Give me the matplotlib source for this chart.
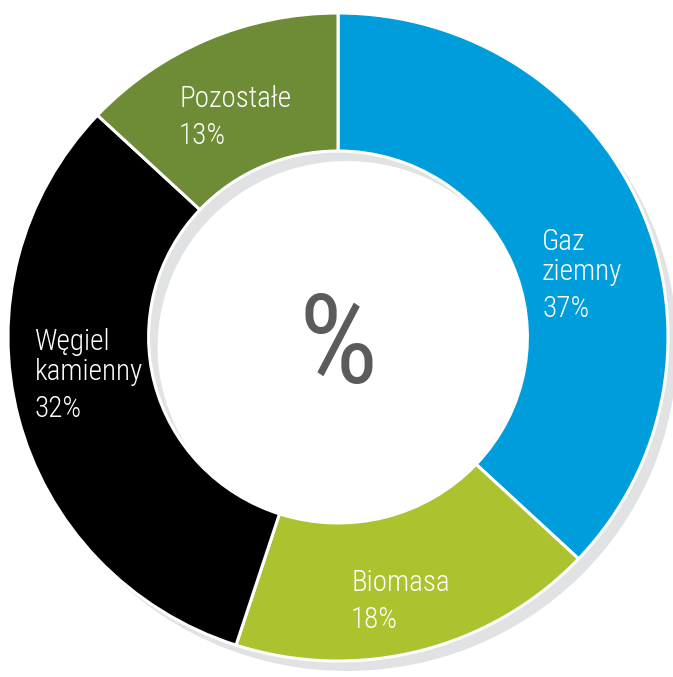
import matplotlib
matplotlib.use('Agg')
import matplotlib.pyplot as plt

# struktura paliw (%)
nazwy = ['Gaz\nziemny', 'Biomasa', 'Węgiel\nkamienny', 'Pozostałe']
udzialy = [37, 18, 32, 13]
kolory = ['#009ddc', '#adc22f', '#000000', '#6e8b36']

# pozycje podpisów w pikselach (lewy brzeg, linia bazowa pierwszego wiersza)
podpisy_xy = [(542, 250), (351, 591), (35, 350), (179, 107)]

plt.rcParams['font.family'] = ['Roboto Condensed', 'Open Sans Condensed',
                               'Roboto', 'DejaVu Sans']

W, H = 673, 677
fig = plt.figure(figsize=(W / 100, H / 100), dpi=100)
ax = fig.add_axes([0, 0, 1, 1])

# środek pierścienia i promienie w pikselach
cx, cy = 338, 337
rx, ry = 330, 324

# cień pod pierścieniem
ax.pie([1], colors=['#e1e2e4'], radius=1, startangle=90, frame=True,
       center=(9 / rx, -10 / ry),
       wedgeprops=dict(width=0.426, linewidth=0))

ax.pie(udzialy, colors=kolory, radius=1, startangle=90, counterclock=False,
       frame=True,
       wedgeprops=dict(width=0.426, edgecolor='white', linewidth=2.2))

ax.set_aspect('auto')
ax.set_xlim(-cx / rx, (W - cx) / rx)
ax.set_ylim(-(H - cy) / ry, cy / ry)
ax.axis('off')


def fx(x):
    return x / W


def fy(y):
    return 1 - y / H


for nazwa, v, (x, y) in zip(nazwy, udzialy, podpisy_xy):
    wiersze = nazwa.split('\n')
    for i, w in enumerate(wiersze):
        fig.text(fx(x), fy(y + 30 * i), w, color='white', fontsize=21,
                 fontweight='light', ha='left', va='baseline')
    fig.text(fx(x), fy(y + 30 * (len(wiersze) - 1) + 37), f'{v}%',
             color='white', fontsize=21, fontweight='light',
             ha='left', va='baseline')

fig.text(fx(338), fy(383), '%', color='#5a5b5d', fontsize=90,
         ha='center', va='baseline')

fig.savefig('out.png', dpi=100)
